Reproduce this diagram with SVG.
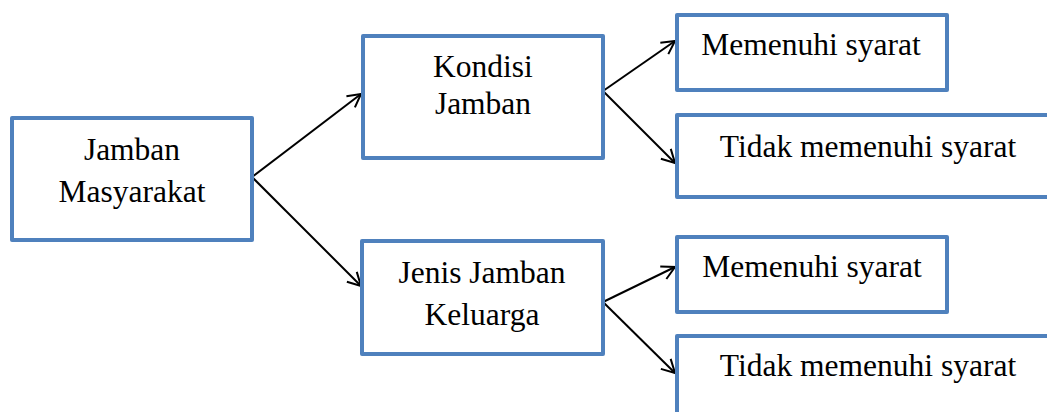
<svg xmlns="http://www.w3.org/2000/svg" width="1047" height="412" viewBox="0 0 1047 412">
<style>
.box{fill:#fff;stroke:#4F81BD;stroke-width:4;stroke-linejoin:round}
.t{font-family:"Liberation Serif","Times New Roman",serif;font-size:31.5px;fill:#000;text-anchor:middle}
.c{stroke:#000;stroke-width:2;fill:none}
</style>
<defs>
<marker id="ah" markerUnits="userSpaceOnUse" markerWidth="20" markerHeight="20" viewBox="-16 -10 20 20" refX="0" refY="0" orient="auto">
<path d="M-13,-7 L0,0 L-13,7" fill="none" stroke="#000" stroke-width="2"/>
</marker>
</defs>
<rect width="1047" height="412" fill="#fff"/>
<g id="connectors">
<line class="c" x1="252" y1="177" x2="361" y2="94" marker-end="url(#ah)"/>
<line class="c" x1="252" y1="177" x2="361" y2="286" marker-end="url(#ah)"/>
<line class="c" x1="603" y1="91" x2="675" y2="41" marker-end="url(#ah)"/>
<line class="c" x1="603" y1="91" x2="675" y2="163" marker-end="url(#ah)"/>
<line class="c" x1="603" y1="302" x2="675" y2="267" marker-end="url(#ah)"/>
<line class="c" x1="603" y1="302" x2="675" y2="373" marker-end="url(#ah)"/>
</g>
<g id="jamban-masyarakat">
<rect class="box" x="12" y="118" width="240" height="122"/>
<text class="t" x="132" y="160">Jamban</text>
<text class="t" x="132" y="202">Masyarakat</text>
</g>
<g id="kondisi-jamban">
<rect class="box" x="363" y="36" width="240" height="122"/>
<text class="t" x="483" y="77">Kondisi</text>
<text class="t" x="483" y="114">Jamban</text>
</g>
<g id="jenis-jamban">
<rect class="box" x="362" y="241" width="241" height="113"/>
<text class="t" x="482" y="283">Jenis Jamban</text>
<text class="t" x="482" y="325">Keluarga</text>
</g>
<g id="memenuhi-1">
<rect class="box" x="677" y="15" width="270" height="75"/>
<text class="t" x="811" y="55">Memenuhi syarat</text>
</g>
<g id="tidak-1">
<rect class="box" x="677" y="115" width="390" height="82"/>
<text class="t" x="868" y="157">Tidak memenuhi syarat</text>
</g>
<g id="memenuhi-2">
<rect class="box" x="677" y="237" width="270" height="75"/>
<text class="t" x="812" y="277">Memenuhi syarat</text>
</g>
<g id="tidak-2">
<rect class="box" x="677" y="336" width="390" height="100"/>
<text class="t" x="868" y="376">Tidak memenuhi syarat</text>
</g>
</svg>
